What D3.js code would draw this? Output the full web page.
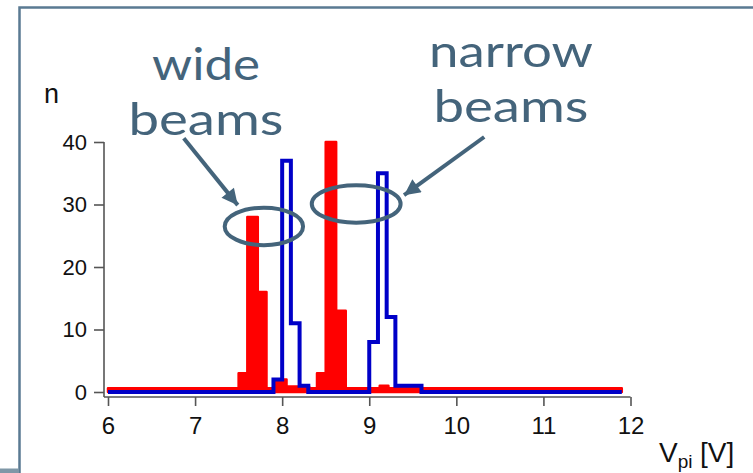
<!DOCTYPE html>
<html>
<head>
<meta charset="utf-8">
<script src="https://cdn.jsdelivr.net/npm/d3@7"></script>
<style>
  html, body { margin: 0; padding: 0; background: #fff; }
  svg { display: block; }
</style>
</head>
<body>
<script>
// x ticks and y ticks as drawn on the chart
const xTicks = [6, 7, 8, 9, 10, 11, 12];
const yTicks = [0, 10, 20, 30, 40];

// wide beams (red, filled histogram): step edges [V] and counts
const redEdges = [6.0, 7.5, 7.6, 7.72, 7.82, 7.93, 8.05, 8.31, 8.4, 8.5, 8.62, 8.73, 9.12, 9.22, 11.9];
const redCounts = [0.6, 3, 28, 16, 0.6, 2, 0.9, 0.6, 3, 40, 13, 0.6, 1, 0.6];

// narrow beams (blue, outline histogram)
const blueEdges = [6.0, 7.9, 8.0, 8.1, 8.2, 8.3, 9.0, 9.1, 9.2, 9.3, 9.6, 11.9];
const blueCounts = [0, 2, 37, 11, 1, 0, 8, 35, 12, 1, 0];

// annotation ellipses and arrows, in data units
const rings = [
  { cx: 7.79, cy: 26.5, rx: 0.45, ry: 3.0 },
  { cx: 8.85, cy: 30.1, rx: 0.51, ry: 3.0 },
];
const arrows = [
  { x1: 6.87, y1: 40.6, x2: 7.49, y2: 29.9 },
  { x1: 10.32, y1: 40.8, x2: 9.40, y2: 31.5 },
];

const W = 753, H = 473;
const slate = "#44647b";
const sans = "Liberation Sans, Arial, sans-serif";

const svg = d3.select("body").append("svg")
  .attr("width", W)
  .attr("height", H);

// slide frame
svg.append("path")
  .attr("d", `M19.5,${H}V7.5H${W}`)
  .attr("fill", "none")
  .attr("stroke", "#5a7a92")
  .attr("stroke-width", 2.5);
svg.append("rect")
  .attr("x", 0).attr("y", 468.5)
  .attr("width", 19).attr("height", 5)
  .attr("fill", "#7f97a7");

// scales
const x = d3.scaleLinear().domain([6, 12]).range([108, 630.5]);
const y = d3.scaleLinear().domain([0, 40]).range([392, 142]);

const axisColor = "#555";

// y axis
const gy = svg.append("g")
  .attr("transform", "translate(104,0)")
  .call(d3.axisLeft(y).tickValues(yTicks).tickFormat(d3.format("d"))
    .tickSize(10).tickPadding(7));
gy.select(".domain").attr("d", `M0,${y(40)}V${y(0) + 5}`);

// x axis
const gx = svg.append("g")
  .attr("transform", `translate(0,${y(0) + 5})`)
  .call(d3.axisBottom(x).tickValues(xTicks).tickFormat(d3.format("d"))
    .tickSize(9).tickPadding(11));
gx.select(".domain").attr("d", `M104,0H${x(12)}`);

svg.selectAll(".domain, .tick line")
  .attr("stroke", axisColor)
  .attr("stroke-width", 1.6);
svg.selectAll(".tick text")
  .attr("fill", "#111")
  .attr("font-family", sans);
gy.selectAll(".tick text").attr("font-size", 22);
gx.selectAll(".tick text").attr("font-size", 24);

// axis titles
svg.append("text")
  .attr("x", 44).attr("y", 103)
  .attr("font-family", sans)
  .attr("font-size", 27)
  .attr("fill", "#111")
  .text("n");

const xt = svg.append("text")
  .attr("y", 462)
  .attr("font-family", sans)
  .attr("font-size", 28)
  .attr("fill", "#111");
xt.append("tspan").attr("x", 659).text("V");
xt.append("tspan").attr("font-size", 19).attr("dy", 6).text("pi");
xt.append("tspan").attr("x", 700).attr("dy", -6).text("[V]");

// histograms
const toSteps = (edges, counts) =>
  edges.map((e, i) => [e, counts[Math.min(i, counts.length - 1)]]);

const redSteps = toSteps(redEdges, redCounts);
const blueSteps = toSteps(blueEdges, blueCounts);

svg.append("path")
  .datum(redSteps)
  .attr("fill", "#ff0000")
  .attr("stroke", "#ff0000")
  .attr("stroke-width", 2.5)
  .attr("stroke-linejoin", "round")
  .attr("stroke-linecap", "round")
  .attr("d", d3.area()
    .x((d) => x(d[0]))
    .y0(y(0))
    .y1((d) => y(d[1]))
    .curve(d3.curveStepAfter));

svg.append("path")
  .datum(blueSteps)
  .attr("fill", "none")
  .attr("stroke", "#0000c8")
  .attr("stroke-width", 4)
  .attr("d", d3.line()
    .x((d) => x(d[0]))
    .y((d) => y(d[1]))
    .curve(d3.curveStepAfter));

// annotations
const sx = (v) => Math.abs(x(v) - x(0));
const sy = (v) => Math.abs(y(v) - y(0));

svg.selectAll(".ring")
  .data(rings)
  .enter()
  .append("ellipse")
  .attr("class", "ring")
  .attr("cx", (d) => x(d.cx))
  .attr("cy", (d) => y(d.cy))
  .attr("rx", (d) => sx(d.rx))
  .attr("ry", (d) => sy(d.ry))
  .attr("fill", "none")
  .attr("stroke", slate)
  .attr("stroke-width", 4);

svg.append("defs").append("marker")
  .attr("id", "head")
  .attr("viewBox", "0 0 10 10")
  .attr("refX", 10).attr("refY", 5)
  .attr("markerWidth", 4.2).attr("markerHeight", 4)
  .attr("markerUnits", "strokeWidth")
  .attr("orient", "auto")
  .append("path")
  .attr("d", "M0,0L10,5L0,10Z")
  .attr("fill", slate);

svg.selectAll(".arrow")
  .data(arrows)
  .enter()
  .append("line")
  .attr("class", "arrow")
  .attr("x1", (d) => x(d.x1))
  .attr("y1", (d) => y(d.y1))
  .attr("x2", (d) => x(d.x2))
  .attr("y2", (d) => y(d.y2))
  .attr("stroke", slate)
  .attr("stroke-width", 4)
  .attr("marker-end", "url(#head)");

// labels
const labels = [
  { text: "wide", x: 206, y: 80, len: 108 },
  { text: "beams", x: 206, y: 135, len: 155 },
  { text: "narrow", x: 511, y: 67, len: 164 },
  { text: "beams", x: 511, y: 122, len: 155 },
];
svg.selectAll(".lab")
  .data(labels)
  .enter()
  .append("text")
  .attr("class", "lab")
  .attr("x", (d) => d.x)
  .attr("y", (d) => d.y)
  .attr("text-anchor", "middle")
  .attr("font-family", "Lato, Open Sans, sans-serif")
  .attr("font-size", 45)
  .attr("fill", slate)
  .attr("textLength", (d) => d.len)
  .attr("lengthAdjust", "spacingAndGlyphs")
  .text((d) => d.text);
</script>
</body>
</html>
